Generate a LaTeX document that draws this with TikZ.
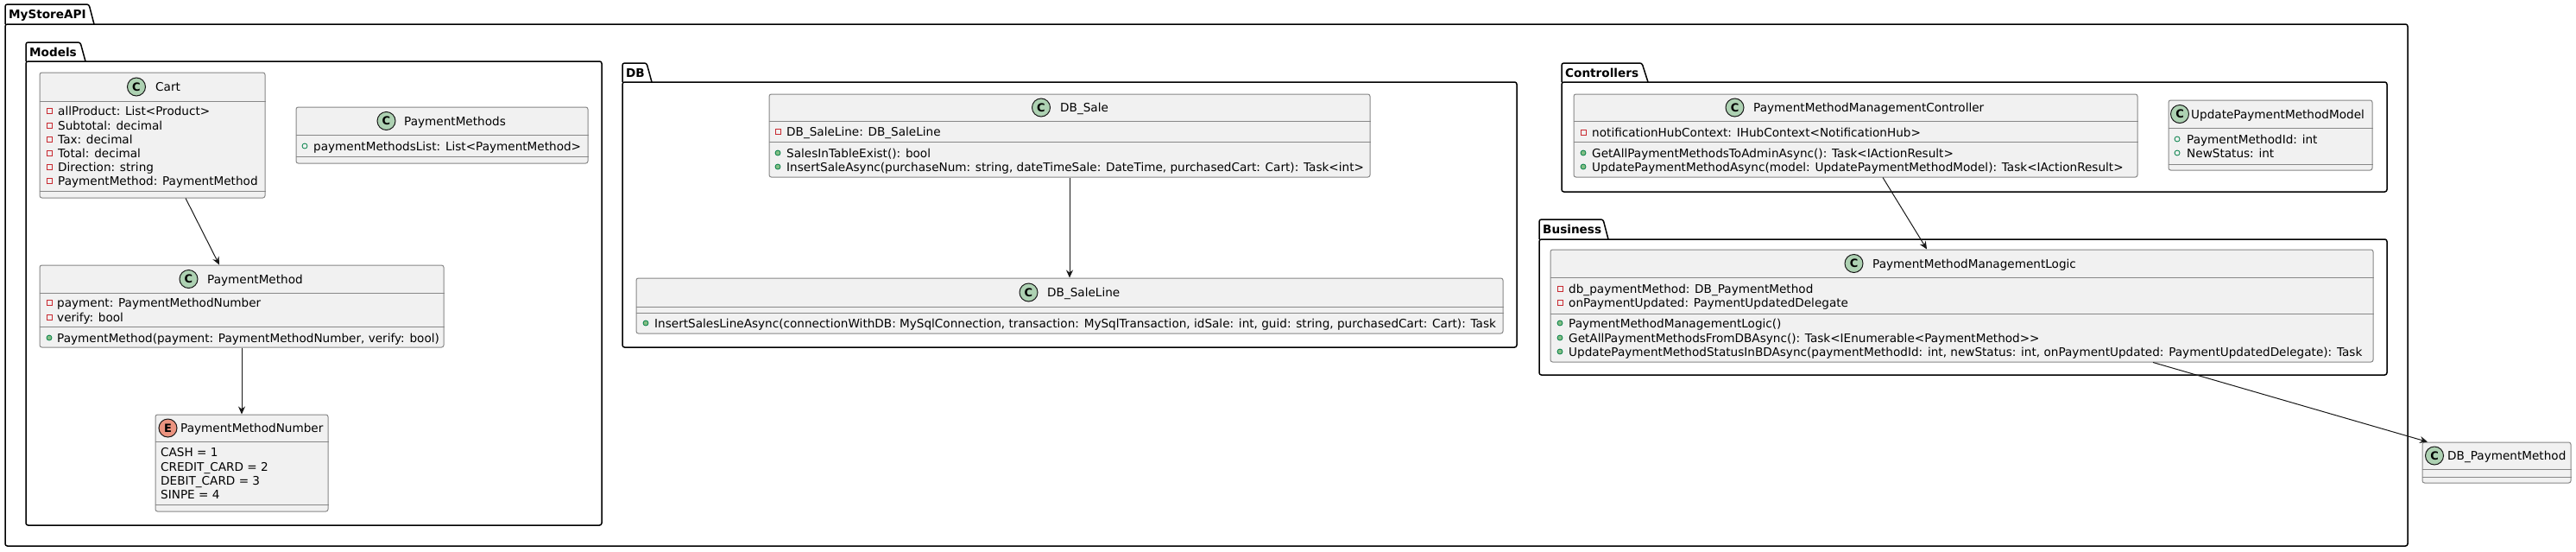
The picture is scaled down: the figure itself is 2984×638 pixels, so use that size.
\documentclass[tikz,border=0pt]{standalone}
\usepackage{fontspec}
\setmainfont{DejaVu Sans}
\usetikzlibrary{arrows.meta,positioning}

\definecolor{fondoclase}{HTML}{F1F1F1}
\definecolor{bordeclase}{RGB}{135,135,135}
\definecolor{lineaoscura}{HTML}{181818}
\definecolor{verdeC}{HTML}{ADD1B2}
\definecolor{rojoE}{HTML}{EB937F}
\definecolor{rojopriv}{HTML}{C82930}
\definecolor{verdepub}{HTML}{84BE84}
\definecolor{verdeborde}{HTML}{038048}

\tikzset{
  paquete/.style={draw=black, line width=1.5pt, rounded corners=2.5pt},
  titulo/.style={anchor=west, inner sep=0pt, text height=12pt, text depth=2pt, font=\bfseries\fontsize{13.6}{16}\selectfont},
  clase/.style={draw=bordeclase, fill=fondoclase, line width=1pt, rounded corners=2.5pt, inner sep=0pt},
  division/.style={draw=bordeclase, line width=1pt},
  nombre/.style={anchor=west, inner sep=0pt, text height=12pt, text depth=2pt, font=\fontsize{13.6}{16}\selectfont},
  miembro/.style={anchor=west, inner sep=0pt, text height=12pt, text depth=2pt, font=\fontsize{13.6}{16}\selectfont},
  iconoC/.style={circle, draw=lineaoscura, fill=verdeC, line width=1pt, minimum size=21pt, inner sep=0pt, font=\bfseries\fontsize{13}{13}\selectfont},
  iconoE/.style={iconoC, fill=rojoE},
  privado/.style={rectangle, draw=rojopriv, line width=0.9pt, minimum size=6pt, inner sep=0pt},
  publico/.style={circle, draw=verdeborde, fill=verdepub, line width=0.8pt, minimum size=6pt, inner sep=0pt},
  campo/.style={circle, draw=verdeborde, line width=0.8pt, minimum size=6pt, inner sep=0pt},
  flecha/.style={draw=lineaoscura, line width=1pt, -{Stealth[length=9pt,width=8pt,inset=3pt]}}
}

\begin{document}
\begin{tikzpicture}[x=1pt,y=-1pt]
    \useasboundingbox (0,0) rectangle (2984,638);

    % Dibuja los paquetes
    \draw[paquete] (6,28) -- (6,5) -- (103,5) -- (109,28);
    \draw[paquete] (6,28) rectangle (2789,632);
    \node[titulo] (tmystore) at (10,16.5) {MyStoreAPI};

    \draw[paquete] (30,71) -- (30,49) -- (93,49) -- (99,71);
    \draw[paquete] (30,71) rectangle (697,608);
    \node[titulo] (tmodels) at (34,60) {Models};

    \draw[paquete] (721,95) -- (721,73) -- (749,73) -- (755,95);
    \draw[paquete] (721,95) rectangle (1757,402);
    \node[titulo] (tdb) at (725,84) {DB};

    \draw[paquete] (1809,95) -- (1809,73) -- (1902,73) -- (1909,95);
    \draw[paquete] (1809,95) rectangle (2765,222);
    \node[titulo] (tcontrollers) at (1813,84) {Controllers};

    \draw[paquete] (1783,277) -- (1783,254) -- (1857,254) -- (1863,277);
    \draw[paquete] (1783,277) rectangle (2765,434);
    \node[titulo] (tbusiness) at (1787,265.5) {Business};

    % Dibuja la clase Cart
    \node[clase, minimum width=261pt, minimum height=145pt] (cart) at (176.5,156.5) {};
    \node[nombre] (cartn) at (180,100.5) {Cart};
    \node[iconoC, left=11pt of cartn] (cartc) {C};
    \draw[division] (cart.west |- 0,117) -- (cart.east |- 0,117);
    \draw[division] (cart.west |- 0,221) -- (cart.east |- 0,221);
    \node[privado] (cartv1) at (57,128) {};
    \node[miembro] (carta1) at (67,128) {allProduct: List<Product>};
    \node[privado] (cartv2) at (57,145) {};
    \node[miembro] (carta2) at (67,145) {Subtotal: decimal};
    \node[privado] (cartv3) at (57,161) {};
    \node[miembro] (carta3) at (67,161) {Tax: decimal};
    \node[privado] (cartv4) at (57,177) {};
    \node[miembro] (carta4) at (67,177) {Total: decimal};
    \node[privado] (cartv5) at (57,193) {};
    \node[miembro] (carta5) at (67,193) {Direction: string};
    \node[privado] (cartv6) at (57,209) {};
    \node[miembro] (carta6) at (67,209) {PaymentMethod: PaymentMethod};

    % Dibuja la clase PaymentMethods
    \node[clase, minimum width=338pt, minimum height=65pt] (pms) at (512,156.5) {};
    \node[nombre] (pmsn) at (468,140) {PaymentMethods};
    \node[iconoC, left=9.5pt of pmsn] (pmsc) {C};
    \draw[division] (pms.west |- 0,156) -- (pms.east |- 0,156);
    \draw[division] (pms.west |- 0,181) -- (pms.east |- 0,181);
    \node[campo] (pmsv1) at (353,169) {};
    \node[miembro] (pmsa1) at (363,169) {paymentMethodsList: List<PaymentMethod>};

    % Dibuja la clase PaymentMethod
    \node[clase, minimum width=468pt, minimum height=95pt] (pm) at (280,354.5) {};
    \node[nombre] (pmn) at (240,323) {PaymentMethod};
    \node[iconoC, left=10.5pt of pmn] (pmc) {C};
    \draw[division] (pm.west |- 0,339) -- (pm.east |- 0,339);
    \draw[division] (pm.west |- 0,378) -- (pm.east |- 0,378);
    \node[privado] (pmv1) at (57,350) {};
    \node[miembro] (pma1) at (66,350) {payment: PaymentMethodNumber};
    \node[privado] (pmv2) at (57,367) {};
    \node[miembro] (pma2) at (66,367) {verify: bool};
    \node[publico] (pmv3) at (57,391) {};
    \node[miembro] (pmm1) at (66,391) {PaymentMethod(payment: PaymentMethodNumber, verify: bool)};

    % Dibuja el enum PaymentMethodNumber
    \node[clase, minimum width=200pt, minimum height=112pt] (pmnum) at (280,536) {};
    \node[nombre] (pmnumn) at (209,495.5) {PaymentMethodNumber};
    \node[iconoE, left=3.5pt of pmnumn] (pmnumc) {E};
    \draw[division] (pmnum.west |- 0,511) -- (pmnum.east |- 0,511);
    \draw[division] (pmnum.west |- 0,584) -- (pmnum.east |- 0,584);
    \node[miembro] (pmnum1) at (186,523) {CASH = 1};
    \node[miembro] (pmnum2) at (186,540) {CREDIT\_CARD = 2};
    \node[miembro] (pmnum3) at (186,556) {DEBIT\_CARD = 3};
    \node[miembro] (pmnum4) at (186,572) {SINPE = 4};

    % Dibuja la clase DB_Sale
    \node[clase, minimum width=696pt, minimum height=96pt] (dbsale) at (1239,157) {};
    \node[nombre] (dbsalen) at (1228,124.5) {DB\_Sale};
    \node[iconoC, left=11pt of dbsalen] (dbsalec) {C};
    \draw[division] (dbsale.west |- 0,140) -- (dbsale.east |- 0,140);
    \draw[division] (dbsale.west |- 0,164) -- (dbsale.east |- 0,164);
    \node[privado] (dbsalev1) at (901,152) {};
    \node[miembro] (dbsalea1) at (911,152) {DB\_SaleLine: DB\_SaleLine};
    \node[publico] (dbsalev2) at (901,177) {};
    \node[miembro] (dbsalem1) at (911,177) {SalesInTableExist(): bool};
    \node[publico] (dbsalev3) at (901,193) {};
    \node[miembro] (dbsalem2) at (911,193) {InsertSaleAsync(purchaseNum: string, dateTimeSale: DateTime, purchasedCart: Cart): Task<int>};

    % Dibuja la clase DB_SaleLine
    \node[clase, minimum width=1004pt, minimum height=64pt] (dbline) at (1239,354) {};
    \node[nombre] (dblinen) at (1213,338.5) {DB\_SaleLine};
    \node[iconoC, left=10.5pt of dblinen] (dblinec) {C};
    \draw[division] (dbline.west |- 0,355) -- (dbline.east |- 0,355);
    \draw[division] (dbline.west |- 0,362) -- (dbline.east |- 0,362);
    \node[publico] (dblinev1) at (748,374) {};
    \node[miembro] (dblinem1) at (758,374) {InsertSalesLineAsync(connectionWithDB: MySqlConnection, transaction: MySqlTransaction, idSale: int, guid: string, purchasedCart: Cart): Task};

    % Dibuja la clase PaymentMethodManagementController
    \node[clase, minimum width=653pt, minimum height=96pt] (ctrl) at (2149.5,157) {};
    \node[nombre] (ctrln) at (2031,124.5) {PaymentMethodManagementController};
    \node[iconoC, left=10.5pt of ctrln] (ctrlc) {C};
    \draw[division] (ctrl.west |- 0,140) -- (ctrl.east |- 0,140);
    \draw[division] (ctrl.west |- 0,164) -- (ctrl.east |- 0,164);
    \node[privado] (ctrlv1) at (1834,153) {};
    \node[miembro] (ctrla1) at (1844,153) {notificationHubContext: IHubContext<NotificationHub>};
    \node[publico] (ctrlv2) at (1834,177) {};
    \node[miembro] (ctrlm1) at (1844,177) {GetAllPaymentMethodsToAdminAsync(): Task<IActionResult>};
    \node[publico] (ctrlv3) at (1834,193) {};
    \node[miembro] (ctrlm2) at (1844,193) {UpdatePaymentMethodAsync(model: UpdatePaymentMethodModel): Task<IActionResult>};

    % Dibuja la clase UpdatePaymentMethodModel
    \node[clase, minimum width=236pt, minimum height=81pt] (upmm) at (2630,156.5) {};
    \node[nombre] (upmmn) at (2538,132) {UpdatePaymentMethodModel};
    \node[iconoC, left=2pt of upmmn] (upmmc) {C};
    \draw[division] (upmm.west |- 0,148) -- (upmm.east |- 0,148);
    \draw[division] (upmm.west |- 0,190) -- (upmm.east |- 0,190);
    \node[campo] (upmmv1) at (2522,161) {};
    \node[miembro] (upmma1) at (2533,161) {PaymentMethodId: int};
    \node[campo] (upmmv2) at (2522,177) {};
    \node[miembro] (upmma2) at (2533,177) {NewStatus: int};

    % Dibuja la clase PaymentMethodManagementLogic
    \node[clase, minimum width=953pt, minimum height=130pt] (logic) at (2272.5,354) {};
    \node[nombre] (logicn) at (2169,305) {PaymentMethodManagementLogic};
    \node[iconoC, left=10.5pt of logicn] (logicc) {C};
    \draw[division] (logic.west |- 0,321) -- (logic.east |- 0,321);
    \draw[division] (logic.west |- 0,363) -- (logic.east |- 0,363);
    \node[privado] (logicv1) at (1807,334) {};
    \node[miembro] (logica1) at (1817,334) {db\_paymentMethod: DB\_PaymentMethod};
    \node[privado] (logicv2) at (1807,350) {};
    \node[miembro] (logica2) at (1817,350) {onPaymentUpdated: PaymentUpdatedDelegate};
    \node[publico] (logicv3) at (1807,374) {};
    \node[miembro] (logicm1) at (1817,374) {PaymentMethodManagementLogic()};
    \node[publico] (logicv4) at (1807,391) {};
    \node[miembro] (logicm2) at (1817,391) {GetAllPaymentMethodsFromDBAsync(): Task<IEnumerable<PaymentMethod>{}>};
    \node[publico] (logicv5) at (1807,407) {};
    \node[miembro] (logicm3) at (1817,407) {UpdatePaymentMethodStatusInBDAsync(paymentMethodId: int, newStatus: int, onPaymentUpdated: PaymentUpdatedDelegate): Task};

    % Dibuja la clase DB_PaymentMethod
    \node[clase, minimum width=172pt, minimum height=47pt] (dbpm) at (2892,535.5) {};
    \node[nombre] (dbpmn) at (2835,527.5) {DB\_PaymentMethod};
    \node[iconoC, left=4pt of dbpmn] (dbpmc) {C};
    \draw[division] (dbpm.west |- 0,543) -- (dbpm.east |- 0,543);
    \draw[division] (dbpm.west |- 0,552) -- (dbpm.east |- 0,552);

    % Dibuja las relaciones
    \draw[flecha] ([xshift=38.5pt]cart.south) -- ([xshift=-26pt]pm.north);
    \draw[flecha] (pm.south) -- (pmnum.north);
    \draw[flecha] (dbsale.south) -- (dbline.north);
    \draw[flecha] ([xshift=31.5pt]ctrl.south) -- ([xshift=-40.5pt]logic.north);
    \draw[flecha] ([xshift=221.5pt]logic.south) -- ([xshift=-80pt]dbpm.north);
\end{tikzpicture}
\end{document}
